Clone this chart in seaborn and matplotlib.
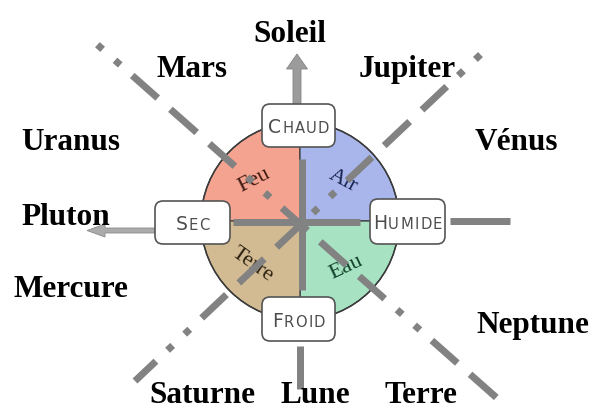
import numpy as np
import pandas as pd
import seaborn as sns
import matplotlib
matplotlib.use("Agg")
import matplotlib.pyplot as plt
from matplotlib.patches import Wedge, Circle, FancyBboxPatch, FancyArrow

# --- data -------------------------------------------------------------
planets = ["Soleil", "Mars", "Jupiter", "Uranus", "Vénus", "Pluton",
           "Mercure", "Neptune", "Saturne", "Lune", "Terre"]
elements = ["Feu", "Air", "Eau", "Terre"]
qualities = ["Chaud", "Sec", "Humide", "Froid"]

# --- layout (pixel units, y pointing down) ---------------------------
W, H = 592, 410
CX, CY, R = 300, 222, 99
planet_xy = [(290, 42), (192, 77), (407, 77), (71, 150), (516, 150),
             (66, 225), (71, 297), (533, 333), (202, 403), (315, 403),
             (421, 403)]
element_span = [(90, 180), (0, 90), (270, 360), (180, 270)]   # visual degrees
element_xy = [(254, 180), (343, 181), (346, 268), (252, 265)]
element_rot = [27, -28, 25, -35]
element_fill = ["#f3a390", "#a9b6eb", "#a7e2c3", "#d2bb93"]
element_ink = ["#3d1810", "#1a2552", "#0f3f28", "#2b2010"]
quality_xy = [(298.5, 126.5), (192.5, 223.5), (407.5, 222.5), (298.5, 320)]
quality_wh = [(73, 43), (75, 43), (75, 45), (73, 44)]

diag_lines = [((97.4, 45.7), (498, 400)), ((480.5, 55.6), (135, 382))]
solid_lines = [((302, 160), (302, 291)), ((233, 222.5), (360, 222.5)),
               ((450, 221.5), (510, 221.5)), ((299.5, 347), (299.5, 390))]
# dot, dot, dash, dash, dash (pixels, repeats every 200 px)
dash_px = [7, 16.5, 7, 16, 34, 17, 35, 17, 34, 16.5]
LINE_PX = 7
GRAY = "#828282"

sns.set_theme(style="white")
plt.rcParams["font.family"] = ["DejaVu Sans"]

fig = plt.figure(figsize=(W / 100, H / 100), dpi=100)
ax = fig.add_axes([0, 0, 1, 1])
ax.set_xlim(0, W)
ax.set_ylim(H, 0)
ax.set_axis_off()

lw = LINE_PX * 72 / 100

# circle quadrants
for (a1, a2), fill in zip(element_span, element_fill):
    ax.add_patch(Wedge((CX, CY), R, -a2, -a1, facecolor=fill,
                       edgecolor="#3a3a3a", linewidth=0.9, zorder=1))
ax.add_patch(Circle((CX, CY), R, facecolor="none", edgecolor="#3a3a3a",
                    linewidth=1.1, zorder=1.5))

for name, (x, y), rot, ink in zip(elements, element_xy, element_rot, element_ink):
    ax.text(x, y, name, fontsize=16, family="Liberation Serif", color=ink,
            rotation=rot, rotation_mode="anchor", ha="center", va="center",
            zorder=2)

# thick grey lines
for (p0, p1) in solid_lines:
    seg = pd.DataFrame({"x": [p0[0], p1[0]], "y": [p0[1], p1[1]]})
    sns.lineplot(data=seg, x="x", y="y", ax=ax, color=GRAY, linewidth=lw,
                 estimator=None, sort=False, solid_capstyle="butt", zorder=3)

pattern = tuple(np.array(dash_px) / LINE_PX)
for (p0, p1) in diag_lines:
    seg = pd.DataFrame({"x": [p0[0], p1[0]], "y": [p0[1], p1[1]]})
    sns.lineplot(data=seg, x="x", y="y", ax=ax, color=GRAY, linewidth=lw,
                 estimator=None, sort=False, linestyle=(0, pattern),
                 dash_capstyle="butt", zorder=3)

# arrows to Soleil and Pluton
ax.add_patch(FancyArrow(297, 110, 0, -55, width=8, head_width=21,
                        head_length=15, length_includes_head=True,
                        facecolor="#9b9b9b", edgecolor="#858585",
                        linewidth=0.6, zorder=3))
ax.add_patch(FancyArrow(160, 231.5, -73, 0, width=5, head_width=13,
                        head_length=18, length_includes_head=True,
                        facecolor="#ababab", edgecolor="#8a8a8a",
                        linewidth=0.6, zorder=3))

# quality boxes with small caps labels (letter by letter, spaced)
fig.canvas.draw()
renderer = fig.canvas.get_renderer()
TRACK = 1.3
for word, (x, y), (w, h) in zip(qualities, quality_xy, quality_wh):
    ax.add_patch(FancyBboxPatch((x - w / 2, y - h / 2), w, h,
                                boxstyle="round,pad=0,rounding_size=8",
                                facecolor="white", edgecolor="#555555",
                                linewidth=1.2, zorder=4))
    glyphs = []
    for i, ch in enumerate(word.upper()):
        t = ax.text(0, 0, ch, fontsize=13.5 if i == 0 else 10.6,
                    color="#4d4d4d", va="baseline", ha="left", zorder=5)
        glyphs.append((t, t.get_window_extent(renderer).width))
    total = sum(gw for _, gw in glyphs) + TRACK * (len(glyphs) - 1)
    cursor = x - total / 2
    base = y + 7
    for t, gw in glyphs:
        t.set_position((cursor, base))
        cursor += gw + TRACK

# planet names
for name, (x, y) in zip(planets, planet_xy):
    ax.text(x, y, name, fontsize=22.5, family="Liberation Serif",
            fontweight="bold", color="black", ha="center", va="baseline",
            zorder=6)

fig.savefig("out.png", dpi=100)
